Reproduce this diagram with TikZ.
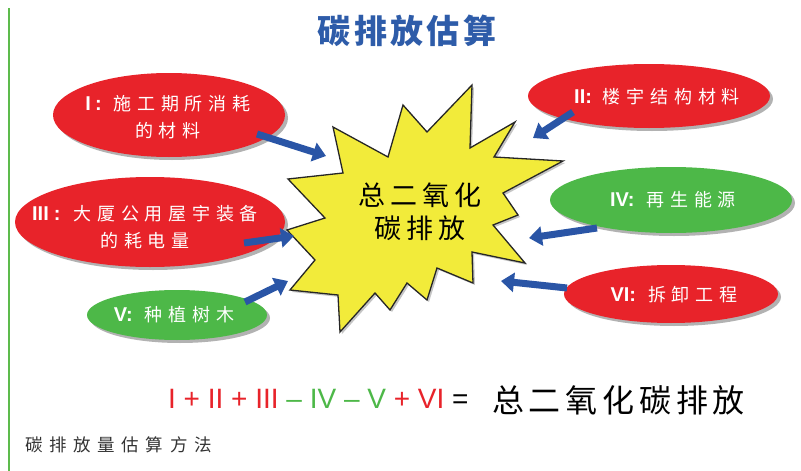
\documentclass[tikz,border=0pt]{standalone}
\usepackage{fontspec}
\setmainfont{Liberation Sans}
\newfontfamily\cjk{Noto Sans CJK SC}
\usetikzlibrary{arrows.meta,shapes.geometric,shadows}
\definecolor{ered}{HTML}{E8232A}
\definecolor{egreen}{HTML}{4DB848}
\definecolor{starY}{HTML}{F2EB3A}
\definecolor{arrowB}{HTML}{2A55A6}
\definecolor{titleB}{HTML}{2E5CA9}
\definecolor{barG}{HTML}{5DBB4C}
\definecolor{capG}{HTML}{333333}
\newcommand\lsp[1]{\addfontfeature{LetterSpace=#1}}
\newcommand\lat[1]{{\normalfont\bfseries\fontsize{20}{27}\selectfont #1}}
\tikzset{
  bubble/.style={ellipse, inner sep=0pt, draw=none,
    drop shadow={shadow xshift=3pt, shadow yshift=-3pt, opacity=0.3, fill=black}},
  redb/.style={bubble, fill=ered},
  greenb/.style={bubble, fill=egreen},
  btext/.style={text=white, align=center, inner sep=0pt,
    font=\cjk\fontsize{18}{27}\selectfont\lsp{32}},
  flow/.style={draw=arrowB, line width=7pt, -{Triangle[length=13pt,width=19pt]}},
}
\begin{document}
\begin{tikzpicture}[x=1pt,y=-1pt]
\useasboundingbox (0,0) rectangle (801,471);
\fill[white] (0,0) rectangle (801,471);
\draw[barG, line width=2pt] (9,8) -- (9,471);

% title
\node[text=titleB, inner sep=0pt, font=\cjk\bfseries\fontsize{33}{36}\selectfont\lsp{10}] (title) at (407,31) {碳排放估算};

% star
\draw[fill=black!45, draw=none, opacity=0.5, shift={(2,2)}]
 (333,127)--(388,157)--(403,105)--(427,132)--(472,85)--(470,148)--(515,122)--(494,157)--(563,161)--(503,193)--(518,215)--(493,225)--(525,263)--(472,252)--(473,283)--(437,268)--(427,300)--(407,283)--(390,310)--(375,293)--(340,332)--(338,295)--(290,290)--(315,260)--(287,230)--(325,218)--(288,179)--(343,173)--cycle;
\draw[fill=starY, draw=black!85, line width=1.3pt, line join=miter]
 (333,127)--(388,157)--(403,105)--(427,132)--(472,85)--(470,148)--(515,122)--(494,157)--(563,161)--(503,193)--(518,215)--(493,225)--(525,263)--(472,252)--(473,283)--(437,268)--(427,300)--(407,283)--(390,310)--(375,293)--(340,332)--(338,295)--(290,290)--(315,260)--(287,230)--(325,218)--(288,179)--(343,173)--cycle;
\node[align=center, inner sep=0pt, font=\cjk\fontsize{27}{33}\selectfont\lsp{18}] (star) at (420,212) {总二氧化\\碳排放};

% bubbles
\node[redb, minimum width=232, minimum height=84] (e1) at (169,115) {};
\node[redb, minimum width=242, minimum height=64] (e2) at (649,96) {};
\node[redb, minimum width=270, minimum height=90] (e3) at (150,222) {};
\node[greenb, minimum width=242, minimum height=66] (e4) at (671,200) {};
\node[greenb, minimum width=180, minimum height=50] (e5) at (177,315) {};
\node[redb, minimum width=214, minimum height=58] (e6) at (671,294) {};

\node[btext] (t1) at (168,117) {\lat{I\hspace{4pt}:}\hspace{12pt}施工期所消耗\\的材料};
\node[btext] (t2) at (657,97) {\lat{II:}\hspace{11pt}楼宇结构材料};
\node[btext] (t3) at (145,227) {\lat{III\hspace{5pt}:}\hspace{13pt}大厦公用屋宇装备\\的耗电量};
\node[btext] (t4) at (673,200) {\lat{IV:}\hspace{12pt}再生能源};
\node[btext] (t5) at (174,315) {\lat{V:}\hspace{12pt}种植树木};
\node[btext] (t6) at (674,295) {\lat{VI:}\hspace{12pt}拆卸工程};

% arrows
\coordinate (a1s) at (257,134); \coordinate (a1e) at (326,156);
\coordinate (a2s) at (573,112); \coordinate (a2e) at (533,138);
\coordinate (a3s) at (244,243); \coordinate (a3e) at (294,236);
\coordinate (a4s) at (597,228); \coordinate (a4e) at (529,238);
\coordinate (a5s) at (245,302); \coordinate (a5e) at (288,281);
\coordinate (a6s) at (567,288); \coordinate (a6e) at (501,281);
\draw[flow] (a1s) -- (a1e);
\draw[flow] (a2s) -- (a2e);
\draw[flow] (a3s) -- (a3e);
\draw[flow] (a4s) -- (a4e);
\draw[flow] (a5s) -- (a5e);
\draw[flow] (a6s) -- (a6e);

% formula
\node[anchor=west, inner sep=0pt, font=\fontsize{28}{30}\selectfont] (formula) at (168,399)
 {\textcolor{ered}{I + II + III} \textcolor{egreen}{– IV – V} \textcolor{ered}{+ VI} =};
\node[anchor=west, inner sep=0pt, font=\cjk\fontsize{32}{34}\selectfont\lsp{15}] (result) at (492,400) {总二氧化碳排放};

% caption
\node[anchor=west, inner sep=0pt, text=capG, font=\cjk\fontsize{17.5}{20}\selectfont\lsp{38}] (cap) at (25,445) {碳排放量估算方法};
\end{tikzpicture}
\end{document}
